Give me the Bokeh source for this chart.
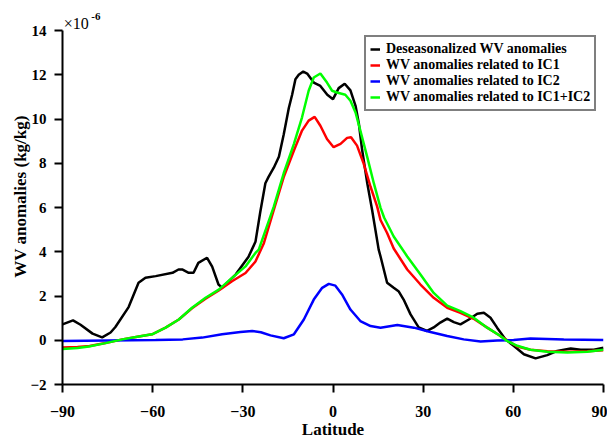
from bokeh.plotting import figure
from bokeh.models import Range1d, Legend, LegendItem, Label, FixedTicker
from bokeh.embed import file_html
from bokeh.resources import INLINE

# Deseasonalized WV anomalies (x1e-6 kg/kg)
lat_obs = [-90, -86.5, -84, -80, -76.8, -74, -72.4, -68, -64.7, -62.4, -59, -53.4, -51.4, -50.2, -48, -46.4,
           -44.8, -41.9, -40.2, -38.1, -36.9, -32.4, -28.1, -25.8, -24.2, -22.5, -21.4, -19.7, -18.0, -16.4,
           -14.7, -13.6, -12.5, -11.4, -9.9, -8.6, -6.4, -4.2, -1.9, 0, 1.9, 3.9, 5.8, 7.5, 8.6, 9.7, 11.4,
           13.0, 15.2, 15.8, 18.0, 20.2, 21.9, 23.5, 25.8, 28.5, 31.3, 33.5, 35.7, 38.0, 40.2, 42.4, 45.2,
           48.0, 50.2, 52.4, 54.6, 57.4, 60.1, 63.5, 67.4, 71.3, 74.6, 79.1, 82.4, 86.8, 90]
wv_obs = [0.72, 0.9, 0.7, 0.3, 0.13, 0.35, 0.6, 1.5, 2.6, 2.83, 2.9, 3.05, 3.2, 3.2, 3.05, 3.05,
          3.5, 3.73, 3.33, 2.52, 2.38, 2.97, 3.78, 4.45, 5.8, 7.1, 7.4, 7.8, 8.3, 9.3,
          10.5, 11.1, 11.8, 12.0, 12.15, 12.06, 11.65, 11.5, 11.1, 10.9, 11.4, 11.6, 11.3, 10.6, 9.8, 8.6, 7.1,
          5.9, 4.1, 3.8, 2.6, 2.37, 2.2, 1.84, 1.17, 0.58, 0.42, 0.58, 0.8, 0.98, 0.82, 0.72, 0.94,
          1.2, 1.24, 1.02, 0.57, 0.04, -0.25, -0.63, -0.82, -0.67, -0.48, -0.37, -0.43, -0.43, -0.34]

# WV anomalies related to IC1
lat_ic1 = [-90, -85, -81, -75.7, -70.1, -64.6, -60.2, -55.7, -51.3, -46.9, -42.4, -38.0, -33.6, -29.1,
           -25.8, -23.0, -19.7, -16.4, -13.0, -10.3, -8.1, -6.1, -4.2, -2.0, 0.2, 2.5, 4.7, 6.0, 8.0, 10.2,
           12.5, 14.7, 15.8, 18.0, 20.2, 24.7, 29.1, 33.5, 38.0, 42.4, 46.8, 51.3, 55.7, 61.3, 65.7, 71.3,
           78.0, 84.6, 90]
wv_ic1 = [-0.33, -0.3, -0.26, -0.12, 0.04, 0.17, 0.27, 0.57, 0.94, 1.45, 1.88, 2.25, 2.67, 3.04,
          3.56, 4.39, 5.89, 7.38, 8.58, 9.48, 9.93, 10.1, 9.7, 9.1, 8.73, 8.88, 9.15, 9.18, 8.8, 7.99,
          6.94, 6.04, 5.44, 4.85, 4.15, 3.2, 2.52, 1.92, 1.47, 1.24, 0.97, 0.57, 0.19, -0.28, -0.43, -0.5,
          -0.52, -0.5, -0.45]

# WV anomalies related to IC2
lat_ic2 = [-90, -75, -59, -50, -43.5, -36.9, -30.8, -26.9, -24, -20.8, -16.4, -13.0, -9.7, -6.4, -3.6,
           -1.4, 0.8, 3.0, 5.8, 9.1, 12.5, 15.8, 21.4, 26.9, 32.4, 38, 43.5, 49.1, 54.6, 60.1, 65.7, 76.8, 90]
wv_ic2 = [-0.03, -0.01, 0.01, 0.04, 0.12, 0.27, 0.37, 0.42, 0.36, 0.22, 0.09, 0.27, 0.94, 1.84, 2.37,
          2.55, 2.47, 2.07, 1.39, 0.87, 0.64, 0.57, 0.69, 0.57, 0.37, 0.19, 0.04, -0.06, -0.01, 0.01, 0.08, 0.04, 0.01]

# WV anomalies related to IC1+IC2
lat_ic12 = [-90, -85, -81.2, -75.7, -70.1, -64.6, -60.2, -55.7, -51.3, -46.9, -42.4, -38.0, -33.6, -29.1,
            -25.8, -24.7, -19.7, -16.4, -13.0, -10.3, -8.1, -6.4, -4.2, -2.0, -0.3, 1.3, 4.1, 5.8, 7.5, 9.1,
            11.4, 13.6, 15.8, 17.0, 20.2, 24.7, 29.1, 33.5, 38.0, 42.4, 46.8, 51.3, 55.7, 57.9, 61.3, 65.7,
            71.3, 78.0, 84.6, 90]
wv_ic12 = [-0.4, -0.35, -0.28, -0.13, 0.04, 0.17, 0.27, 0.57, 0.94, 1.47, 1.92, 2.29, 2.82, 3.34,
           3.95, 4.1, 6.04, 7.55, 8.88, 10.08, 11.28, 11.88, 12.06, 11.65, 11.28, 11.2, 11.1, 10.83, 10.3, 9.48,
           8.28, 7.09, 6.0, 5.55, 4.69, 3.79, 2.97, 2.14, 1.57, 1.32, 1.02, 0.57, 0.19, -0.03, -0.25, -0.43,
           -0.52, -0.55, -0.52, -0.43]

x_ticks = [-90, -60, -30, 0, 30, 60, 90]
y_ticks = [-2, 0, 2, 4, 6, 8, 10, 12, 14]

FONT = "Liberation Serif"

p = figure(width=607, height=441, output_backend="svg", toolbar_location=None,
           x_range=Range1d(-90, 90), y_range=Range1d(-2, 15),
           min_border_left=62, min_border_right=4, min_border_top=8, min_border_bottom=56)
p.outline_line_color = None
p.grid.visible = False
p.background_fill_color = "white"

for ax in (p.xaxis[0], p.yaxis[0]):
    ax.axis_line_width = 2
    ax.axis_line_color = "black"
    ax.major_tick_line_width = 2
    ax.major_tick_line_color = "black"
    ax.major_tick_out = 8
    ax.major_tick_in = 0
    ax.minor_tick_line_color = None
    ax.major_label_text_font = FONT
    ax.major_label_text_font_style = "bold"
    ax.major_label_text_font_size = "16px"
    ax.major_label_text_color = "black"
    ax.axis_label_text_font = FONT
    ax.axis_label_text_font_style = "bold"
    ax.axis_label_text_font_size = "17px"
    ax.axis_label_text_color = "black"

p.yaxis.major_label_text_font_size = "15px"
p.xaxis.ticker = FixedTicker(ticks=x_ticks)
p.yaxis.ticker = FixedTicker(ticks=y_ticks)
p.yaxis.bounds = (-2, 14)
p.xaxis.axis_label = "Latitude"
p.yaxis.axis_label = "WV anomalies (kg/kg)"
p.xaxis.major_label_standoff = 13
p.yaxis.major_label_standoff = 8
p.xaxis.axis_label_standoff = 0
p.yaxis.axis_label_standoff = -3

r0 = p.line(lat_obs, wv_obs, line_color="black", line_width=2.5)
r1 = p.line(lat_ic1, wv_ic1, line_color="#ff0000", line_width=2.5)
r2 = p.line(lat_ic2, wv_ic2, line_color="#0000ff", line_width=2.5)
r3 = p.line(lat_ic12, wv_ic12, line_color="#00ff00", line_width=2.5)

legend = Legend(items=[
    LegendItem(label="Deseasonalized WV anomalies", renderers=[r0]),
    LegendItem(label="WV anomalies related to IC1", renderers=[r1]),
    LegendItem(label="WV anomalies related to IC2", renderers=[r2]),
    LegendItem(label="WV anomalies related to IC1+IC2", renderers=[r3]),
], location=(302, 273))
legend.margin = 0
legend.padding = 4
legend.spacing = 0
legend.glyph_width = 10
legend.glyph_height = 16
legend.label_height = 16
legend.label_standoff = 6
legend.label_text_font = FONT
legend.label_text_font_style = "bold"
legend.label_text_font_size = "14px"
legend.label_text_color = "black"
legend.border_line_color = "black"
legend.border_line_width = 2
legend.background_fill_color = "white"
legend.background_fill_alpha = 1.0
p.add_layout(legend)

p.add_layout(Label(x=-89.6, y=14.0, text="\u00d710", text_font=FONT, text_font_size="16px",
                   text_baseline="alphabetic", text_color="black", y_offset=7))
p.add_layout(Label(x=-80.4, y=14.3, text="-6", text_font=FONT, text_font_size="11px",
                   text_font_style="bold", text_baseline="alphabetic", text_color="black", y_offset=7))

open("out.html", "w").write(file_html(p, INLINE))
